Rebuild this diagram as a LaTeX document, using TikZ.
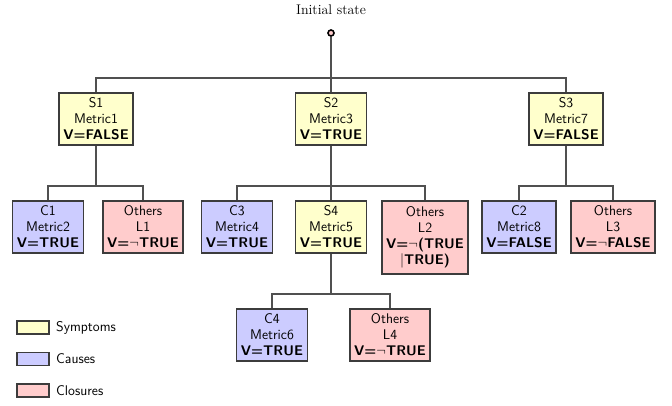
\documentclass[tikz,border=0pt]{standalone}
\definecolor{symfill}{HTML}{FFFFCC}
\definecolor{caufill}{HTML}{CCCCFF}
\definecolor{clofill}{HTML}{FFCCCC}
\definecolor{boxline}{HTML}{3C3C3C}
\definecolor{connline}{HTML}{505050}
\tikzset{
  box/.style={draw=boxline, line width=1.7pt, font=\sffamily\fontsize{14}{16}\selectfont,
    align=center, minimum width=70pt, minimum height=52pt, inner xsep=4.5pt, inner ysep=2pt, anchor=north},
  sym/.style={box, fill=symfill},
  cau/.style={box, fill=caufill},
  clo/.style={box, fill=clofill},
  conn/.style={draw=connline, line width=2.7pt},
  legbox/.style={draw=boxline, line width=1.4pt, minimum width=32pt, minimum height=13pt, inner sep=0pt},
  legtext/.style={anchor=west, font=\sffamily\fontsize{14}{16}\selectfont, inner sep=0pt},
  rootdot/.style={circle, draw=black, fill=clofill, line width=1.6pt, minimum size=6pt, inner sep=0pt},
}
\begin{document}
\begin{tikzpicture}[x=1pt,y=-1pt]
\useasboundingbox (0,0) rectangle (672,405);
\node[font=\rmfamily\fontsize{14}{16}\selectfont] (title) at (331,10) {Initial state};
% level 1
\node[sym] (S1) at (96,92) {S1\\Metric1\\\textbf{V=FALSE}};
\node[sym] (S2) at (331,92) {S2\\Metric3\\\textbf{V=TRUE}};
\node[sym] (S3) at (566,92) {S3\\Metric7\\\textbf{V=FALSE}};
% level 2
\node[cau] (C1) at (48,200) {C1\\Metric2\\\textbf{V=TRUE}};
\node[clo] (L1) at (143,200) {Others\\L1\\\textbf{V=$\neg$TRUE}};
\node[cau] (C3) at (237,200) {C3\\Metric4\\\textbf{V=TRUE}};
\node[sym] (S4) at (331,200) {S4\\Metric5\\\textbf{V=TRUE}};
\node[clo, minimum height=73pt] (L2) at (425,200) {Others\\L2\\\textbf{V=$\neg$(TRUE}\\$|$\textbf{TRUE)}};
\node[cau] (C2) at (519,200) {C2\\Metric8\\\textbf{V=FALSE}};
\node[clo] (L3) at (613,200) {Others\\L3\\\textbf{V=$\neg$FALSE}};
% level 3
\node[cau] (C4) at (272,308) {C4\\Metric6\\\textbf{V=TRUE}};
\node[clo] (L4) at (390,308) {Others\\L4\\\textbf{V=$\neg$TRUE}};
% junctions
\coordinate (j0) at (331,78);
\coordinate (j1) at (96,186);
\coordinate (j2) at (331,186);
\coordinate (j3) at (566,186);
\coordinate (j4) at (331,294);
% root
\node[rootdot] (root) at (331,33) {};
% connectors
\draw[conn] (root) -- (j0);
\draw[conn] (j0) -| (S1);
\draw[conn] (j0) -- (S2);
\draw[conn] (j0) -| (S3);
\draw[conn] (S1) -- (j1);
\draw[conn] (j1) -| (C1);
\draw[conn] (j1) -| (L1);
\draw[conn] (S2) -- (j2);
\draw[conn] (j2) -| (C3);
\draw[conn] (j2) -- (S4);
\draw[conn] (j2) -| (L2);
\draw[conn] (S3) -- (j3);
\draw[conn] (j3) -| (C2);
\draw[conn] (j3) -| (L3);
\draw[conn] (S4) -- (j4);
\draw[conn] (j4) -| (C4);
\draw[conn] (j4) -| (L4);
% legend
\node[legbox, fill=symfill] (lg1) at (33,327.5) {};
\node[legtext] (lt1) at (56,327.5) {Symptoms};
\node[legbox, fill=caufill] (lg2) at (33,359) {};
\node[legtext] (lt2) at (56,359) {Causes};
\node[legbox, fill=clofill] (lg3) at (33,390.5) {};
\node[legtext] (lt3) at (56,390.5) {Closures};
\end{tikzpicture}
\end{document}
